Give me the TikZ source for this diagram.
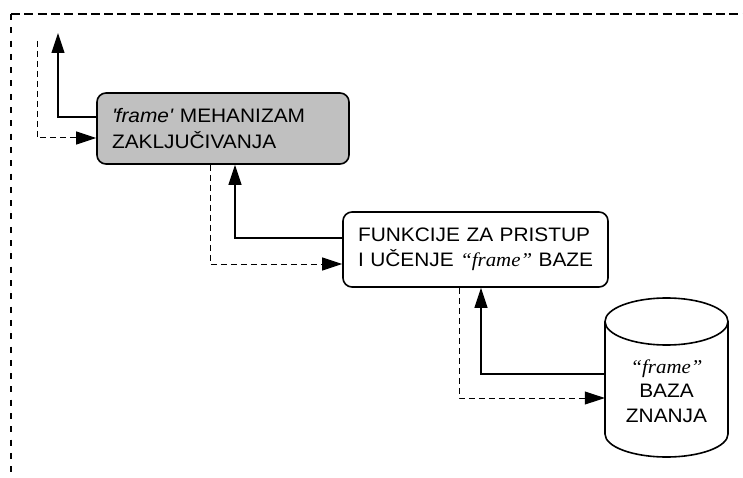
\documentclass[tikz,border=0pt]{standalone}
\usepackage{fontspec}
\setmainfont{Liberation Sans}[FakeStretch=1.07]
\newfontfamily\timesfam{Liberation Serif}[FakeStretch=1.07]
\usetikzlibrary{arrows.meta}
\tikzset{
  box/.style={draw, line width=1.6pt, rounded corners=9pt, align=left, inner xsep=15pt, inner ysep=0pt,
    font=\fontsize{19.5}{25.5}\selectfont},
  solidarrow/.style={line width=1.2pt, -{Triangle[length=20pt,width=13pt]}},
  dasharrow/.style={line width=1pt, dash pattern=on 6pt off 4pt, -{Triangle[length=20pt,width=13pt]}},
}
\begin{document}
\begin{tikzpicture}[x=1pt,y=-1pt]
\useasboundingbox (0,0) rectangle (743,478);
% outer frame
\draw[line width=2pt, dash pattern=on 9pt off 4.3pt] (11,14) -- (743,14);
\draw[line width=2pt, dash pattern=on 6pt off 7.3pt] (11,14) -- (11,478);

\node[box, fill={rgb,255:red,192;green,192;blue,192}, text width=222pt, minimum height=71pt] (b1) at (223,128.5)
  {\mbox{\textit{\textquotesingle frame\textquotesingle} MEHANIZAM}\\\mbox{ZAKLJUČIVANJA}};
\node[box, fill=white, text width=235pt, minimum height=75pt] (b2) at (475.5,249.5)
  {\mbox{FUNKCIJE ZA PRISTUP}\\\mbox{I UČENJE {\timesfam\itshape “frame”} BAZE}};

% cylinder
\draw[line width=1.6pt, fill=white] (605,321.5) -- (605,434) arc[start angle=180, end angle=360, x radius=61.5pt, y radius=23pt]
  -- (728,321.5) arc[start angle=0, end angle=180, x radius=61.5pt, y radius=23.5pt] -- cycle;
\draw[line width=1.6pt] (605,321.5) arc[start angle=180, end angle=360, x radius=61.5pt, y radius=23.5pt];
\node[minimum width=123pt, minimum height=159pt, inner sep=0pt] (db) at (666.5,377.5) {};
\node[align=center, font=\fontsize{19.5}{24.5}\selectfont, inner sep=0pt] (dbt) at (666.5,391)
  {{\timesfam\itshape “frame”}\\BAZA\\ZNANJA};

\coordinate (outA) at (58,33);
\coordinate (inA) at (37,41);

\draw[solidarrow] ([yshift=11.5pt]b1.west) -| (outA);
\draw[dasharrow] (inA) |- ([yshift=-9.5pt]b1.west);

\draw[dasharrow] (b1.south -| 210,0) |- ([yshift=-14.5pt]b2.west);
\draw[solidarrow] ([yshift=11.5pt]b2.west) -| (b1.south -| 235,0);

\draw[dasharrow] (b2.south -| 459,0) |- ([yshift=-20.5pt]db.west);
\draw[solidarrow] ([yshift=3.5pt]db.west) -| (b2.south -| 481,0);
\end{tikzpicture}
\end{document}
